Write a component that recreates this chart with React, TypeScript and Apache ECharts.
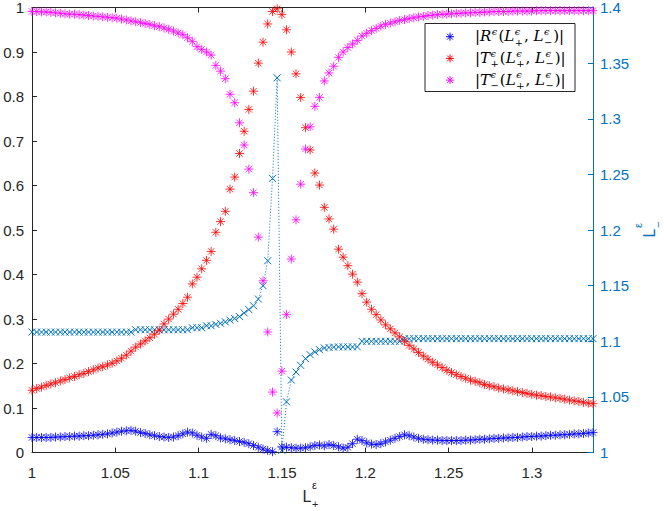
import React, { useEffect, useRef } from "react";
import * as echarts from "echarts";

// Independent variable L+^eps (120 samples)
const lPlus = [
  1.0000, 1.0028, 1.0057, 1.0085, 1.0113, 1.0141, 1.0170, 1.0198, 1.0226, 1.0255,
  1.0283, 1.0311, 1.0339, 1.0368, 1.0396, 1.0424, 1.0453, 1.0481, 1.0509, 1.0537,
  1.0566, 1.0594, 1.0622, 1.0651, 1.0679, 1.0707, 1.0735, 1.0764, 1.0792, 1.0820,
  1.0849, 1.0877, 1.0905, 1.0933, 1.0962, 1.0990, 1.1018, 1.1047, 1.1075, 1.1103,
  1.1131, 1.1160, 1.1188, 1.1216, 1.1245, 1.1273, 1.1301, 1.1329, 1.1358, 1.1386,
  1.1414, 1.1443, 1.1471, 1.1499, 1.1527, 1.1556, 1.1584, 1.1612, 1.1641, 1.1669,
  1.1697, 1.1725, 1.1754, 1.1782, 1.1810, 1.1839, 1.1867, 1.1895, 1.1923, 1.1952,
  1.1980, 1.2008, 1.2037, 1.2065, 1.2093, 1.2121, 1.2150, 1.2178, 1.2206, 1.2235,
  1.2263, 1.2291, 1.2319, 1.2348, 1.2376, 1.2404, 1.2433, 1.2461, 1.2489, 1.2517,
  1.2546, 1.2574, 1.2602, 1.2631, 1.2659, 1.2687, 1.2715, 1.2744, 1.2772, 1.2800,
  1.2829, 1.2857, 1.2885, 1.2913, 1.2942, 1.2970, 1.2998, 1.3027, 1.3055, 1.3083,
  1.3111, 1.3140, 1.3168, 1.3196, 1.3225, 1.3253, 1.3281, 1.3309, 1.3338, 1.3366,
];

// |R^eps(L+, L-)|
const reflR = [
  0.034, 0.034, 0.034, 0.034, 0.034, 0.035, 0.035, 0.036, 0.036, 0.037,
  0.037, 0.038, 0.038, 0.039, 0.040, 0.041, 0.042, 0.044, 0.046, 0.048,
  0.049, 0.050, 0.048, 0.045, 0.043, 0.040, 0.038, 0.036, 0.035, 0.034,
  0.035, 0.038, 0.042, 0.046, 0.044, 0.039, 0.035, 0.032, 0.041, 0.038,
  0.033, 0.031, 0.029, 0.027, 0.025, 0.023, 0.020, 0.016, 0.012, 0.008,
  0.005, 0.002, 0.047, 0.013, 0.012, 0.011, 0.010, 0.010, 0.011, 0.013,
  0.016, 0.017, 0.015, 0.018, 0.016, 0.013, 0.010, 0.012, 0.020, 0.030,
  0.027, 0.022, 0.019, 0.018, 0.020, 0.024, 0.028, 0.032, 0.036, 0.040,
  0.038, 0.035, 0.032, 0.030, 0.029, 0.028, 0.028, 0.027, 0.027, 0.027,
  0.027, 0.027, 0.028, 0.028, 0.029, 0.030, 0.030, 0.031, 0.032, 0.032,
  0.033, 0.033, 0.034, 0.034, 0.035, 0.036, 0.036, 0.037, 0.037, 0.038,
  0.039, 0.039, 0.040, 0.040, 0.041, 0.042, 0.042, 0.043, 0.044, 0.045,
];

// |T+^eps(L+, L-)|
const transPlus = [
  0.140, 0.144, 0.147, 0.151, 0.154, 0.157, 0.161, 0.164, 0.168, 0.171,
  0.175, 0.178, 0.182, 0.186, 0.190, 0.193, 0.197, 0.201, 0.206, 0.212,
  0.219, 0.228, 0.237, 0.244, 0.251, 0.258, 0.266, 0.275, 0.289, 0.300,
  0.311, 0.322, 0.335, 0.349, 0.379, 0.394, 0.413, 0.432, 0.452, 0.495,
  0.519, 0.542, 0.592, 0.619, 0.672, 0.722, 0.771, 0.812, 0.875, 0.922,
  0.963, 0.991, 0.997, 0.984, 0.950, 0.900, 0.851, 0.798, 0.730, 0.680,
  0.628, 0.601, 0.551, 0.525, 0.502, 0.457, 0.439, 0.420, 0.401, 0.383,
  0.357, 0.338, 0.322, 0.310, 0.298, 0.287, 0.278, 0.269, 0.260, 0.250,
  0.241, 0.233, 0.225, 0.217, 0.210, 0.203, 0.197, 0.191, 0.185, 0.180,
  0.175, 0.171, 0.167, 0.163, 0.160, 0.157, 0.153, 0.150, 0.148, 0.145,
  0.143, 0.141, 0.139, 0.137, 0.135, 0.133, 0.131, 0.129, 0.128, 0.126,
  0.125, 0.123, 0.122, 0.120, 0.118, 0.116, 0.115, 0.113, 0.111, 0.110,
];

// |T-^eps(L+, L-)|
const transMinus = [
  0.991, 0.991, 0.990, 0.990, 0.989, 0.988, 0.987, 0.986, 0.985, 0.985,
  0.984, 0.983, 0.982, 0.981, 0.980, 0.979, 0.978, 0.977, 0.976, 0.974,
  0.972, 0.970, 0.968, 0.966, 0.964, 0.962, 0.959, 0.957, 0.954, 0.951,
  0.947, 0.943, 0.939, 0.932, 0.924, 0.912, 0.906, 0.900, 0.893, 0.870,
  0.857, 0.840, 0.805, 0.786, 0.741, 0.691, 0.637, 0.584, 0.484, 0.386,
  0.271, 0.136, 0.089, 0.183, 0.310, 0.435, 0.523, 0.603, 0.682, 0.732,
  0.778, 0.798, 0.835, 0.853, 0.868, 0.888, 0.900, 0.910, 0.918, 0.926,
  0.936, 0.942, 0.948, 0.953, 0.958, 0.962, 0.965, 0.968, 0.971, 0.973,
  0.975, 0.977, 0.979, 0.980, 0.982, 0.983, 0.984, 0.985, 0.985, 0.986,
  0.987, 0.987, 0.988, 0.988, 0.989, 0.989, 0.990, 0.990, 0.991, 0.991,
  0.991, 0.991, 0.992, 0.992, 0.992, 0.992, 0.992, 0.993, 0.993, 0.993,
  0.993, 0.993, 0.993, 0.993, 0.993, 0.993, 0.993, 0.993, 0.993, 0.993,
];

// L-^eps (right axis)
const lMinus = [
  1.1083, 1.1083, 1.1083, 1.1083, 1.1083, 1.1083, 1.1083, 1.1083, 1.1083, 1.1083,
  1.1083, 1.1083, 1.1083, 1.1083, 1.1083, 1.1083, 1.1083, 1.1083, 1.1083, 1.1083,
  1.1083, 1.1083, 1.1104, 1.1104, 1.1104, 1.1104, 1.1104, 1.1104, 1.1104, 1.1104,
  1.1104, 1.1104, 1.1104, 1.1104, 1.1122, 1.1122, 1.1122, 1.1140, 1.1140, 1.1152,
  1.1162, 1.1175, 1.1190, 1.1205, 1.1222, 1.1255, 1.1285, 1.1320, 1.1380, 1.1500,
  1.1724, 1.2464, 1.3368, 1.0020, 1.0456, 1.0652, 1.0724, 1.0784, 1.0844, 1.0880,
  1.0905, 1.0925, 1.0940, 1.0945, 1.0948, 1.0950, 1.0950, 1.0950, 1.0950, 1.0950,
  1.1000, 1.1000, 1.1000, 1.1000, 1.1000, 1.1000, 1.1000, 1.1000, 1.1000, 1.1024,
  1.1024, 1.1024, 1.1024, 1.1024, 1.1024, 1.1024, 1.1024, 1.1024, 1.1024, 1.1024,
  1.1024, 1.1024, 1.1024, 1.1024, 1.1024, 1.1024, 1.1024, 1.1024, 1.1024, 1.1024,
  1.1024, 1.1024, 1.1024, 1.1024, 1.1024, 1.1024, 1.1024, 1.1024, 1.1024, 1.1024,
  1.1024, 1.1024, 1.1024, 1.1024, 1.1024, 1.1024, 1.1024, 1.1024, 1.1024, 1.1024,
];

const X_RANGE = [1, 1.3366];
const LEFT_RANGE = [0, 1];
const RIGHT_RANGE = [1, 1.4];

const AXIS = "#262626";
const RIGHT = "#0072BD";
const BLUE = "#0000FF";
const RED = "#FF0000";
const MAGENTA = "#FF00FF";
const SANS = "'Liberation Sans', Arial, Helvetica, sans-serif";
const SERIF = "'DejaVu Serif', 'Liberation Serif', serif";

const STAR = "path://M0,-5L0,5M-5,0L5,0M-3.54,-3.54L3.54,3.54M-3.54,3.54L3.54,-3.54";
const CROSS = "path://M-1,-1L1,1M-1,1L1,-1";

type Piece = { t: string; it?: boolean; sup?: string; sub?: string };

const legendRows: { color: string; name: string; pieces: Piece[] }[] = [
  {
    color: BLUE,
    name: "|R^ϵ(L^ϵ_+, L^ϵ_−)|",
    pieces: [
      { t: "|" },
      { t: "R", it: true, sup: "ϵ" },
      { t: "(" },
      { t: "L", it: true, sup: "ϵ", sub: "+" },
      { t: ", " },
      { t: "L", it: true, sup: "ϵ", sub: "−" },
      { t: ")|" },
    ],
  },
  {
    color: RED,
    name: "|T^ϵ_+(L^ϵ_+, L^ϵ_−)|",
    pieces: [
      { t: "|" },
      { t: "T", it: true, sup: "ϵ", sub: "+" },
      { t: "(" },
      { t: "L", it: true, sup: "ϵ", sub: "+" },
      { t: ", " },
      { t: "L", it: true, sup: "ϵ", sub: "−" },
      { t: ")|" },
    ],
  },
  {
    color: MAGENTA,
    name: "|T^ϵ_−(L^ϵ_+, L^ϵ_−)|",
    pieces: [
      { t: "|" },
      { t: "T", it: true, sup: "ϵ", sub: "−" },
      { t: "(" },
      { t: "L", it: true, sup: "ϵ", sub: "+" },
      { t: ", " },
      { t: "L", it: true, sup: "ϵ", sub: "−" },
      { t: ")|" },
    ],
  },
];

let measureCtx: CanvasRenderingContext2D | null = null;
function textWidth(t: string, size: number, family: string, italic: boolean) {
  if (!measureCtx) measureCtx = document.createElement("canvas").getContext("2d");
  if (!measureCtx) return t.length * size * 0.5;
  measureCtx.font = `${italic ? "italic " : ""}${size}px ${family}`;
  return measureCtx.measureText(t).width;
}

function txt(t: string, x: number, baseline: number, size: number, family: string, italic: boolean, fill: string) {
  return {
    type: "text",
    x,
    y: baseline - 0.34 * size,
    silent: true,
    style: {
      text: t,
      fontSize: size,
      fontFamily: family,
      fontStyle: italic ? "italic" : "normal",
      fill,
      align: "left",
      verticalAlign: "middle",
      lineHeight: size,
    },
  };
}

function mathRow(
  pieces: Piece[],
  x0: number,
  base: number,
  size: number,
  family: string,
  fill: string,
  o: { ratio: number; raise: number; drop: number; supIt: boolean }
) {
  const s2 = size * o.ratio;
  const els: any[] = [];
  let x = x0;
  for (const p of pieces) {
    els.push(txt(p.t, x, base, size, family, !!p.it, fill));
    x += textWidth(p.t, size, family, !!p.it);
    if (p.sup || p.sub) {
      let w = 0;
      if (p.sup) {
        els.push(txt(p.sup, x + 0.5, base - o.raise * size, s2, family, o.supIt, fill));
        w = Math.max(w, textWidth(p.sup, s2, family, o.supIt));
      }
      if (p.sub) {
        els.push(txt(p.sub, x + 0.5, base + o.drop * size, s2, family, false, fill));
        w = Math.max(w, textWidth(p.sub, s2, family, false));
      }
      x += w + 1.5;
    }
  }
  return els;
}

function starLines(cx: number, cy: number, r: number, color: string) {
  const d = r * 0.707;
  const segs = [
    [0, -r, 0, r],
    [-r, 0, r, 0],
    [-d, -d, d, d],
    [-d, d, d, -d],
  ];
  return segs.map((s) => ({
    type: "line",
    silent: true,
    shape: { x1: cx + s[0], y1: cy + s[1], x2: cx + s[2], y2: cy + s[3] },
    style: { stroke: color, lineWidth: 1 },
  }));
}

export default function App() {
  const ref = useRef<HTMLDivElement>(null);

  useEffect(() => {
    document.body.style.margin = "0";
    if (!ref.current) return;
    const chart = echarts.init(ref.current, undefined, { renderer: "svg" });

    const graphics: any[] = [];

    // Legend box
    const legend: any[] = [
      {
        type: "rect",
        silent: true,
        shape: { x: 425, y: 23.5, width: 150, height: 68 },
        style: { fill: "#ffffff", stroke: AXIS, lineWidth: 1 },
      },
    ];
    legendRows.forEach((row, i) => {
      const base = 41.5 + i * 21.7;
      legend.push(...starLines(450, base - 4.8, 4, row.color));
      legend.push(
        ...mathRow(row.pieces, 475, base, 15, SERIF, "#000000", {
          ratio: 0.66,
          raise: 0.45,
          drop: 0.26,
          supIt: true,
        })
      );
    });
    graphics.push({ type: "group", z: 100, children: legend });

    // x-axis name: L_+^eps
    graphics.push({
      type: "group",
      z: 100,
      children: mathRow([{ t: "L", sup: "ε", sub: "+" }], 302.5, 502, 16, SANS, AXIS, {
        ratio: 0.69,
        raise: 0.8,
        drop: 0.35,
        supIt: false,
      }),
    });

    // right axis name: L_-^eps rotated
    graphics.push({
      type: "group",
      z: 100,
      x: 655,
      y: 237.5,
      rotation: Math.PI / 2,
      children: mathRow([{ t: "L", sup: "ε", sub: "−" }], 0, 0, 16, SANS, RIGHT, {
        ratio: 0.69,
        raise: 0.8,
        drop: 0.4,
        supIt: false,
      }),
    });

    const axisTick = (color: string) => ({
      show: true,
      inside: true,
      length: 5,
      lineStyle: { color, width: 1 },
    });

    const option: any = {
      animation: false,
      backgroundColor: "#ffffff",
      grid: { left: 32, right: 71, top: 6, bottom: 58.4, containLabel: false },
      xAxis: [
        {
          type: "value",
          position: "bottom",
          min: X_RANGE[0],
          max: X_RANGE[1],
          interval: 0.05,
          axisLine: { show: true, onZero: false, lineStyle: { color: AXIS, width: 1 } },
          axisTick: axisTick(AXIS),
          axisLabel: {
            color: AXIS,
            fontSize: 15,
            fontFamily: SANS,
            margin: 12,
            showMaxLabel: false,
          },
          splitLine: { show: false },
        },
        {
          type: "value",
          position: "top",
          min: X_RANGE[0],
          max: X_RANGE[1],
          interval: 0.05,
          axisLine: { show: true, onZero: false, lineStyle: { color: AXIS, width: 1 } },
          axisTick: axisTick(AXIS),
          axisLabel: { show: false },
          splitLine: { show: false },
        },
      ],
      yAxis: [
        {
          type: "value",
          position: "left",
          min: LEFT_RANGE[0],
          max: LEFT_RANGE[1],
          interval: 0.1,
          axisLine: { show: true, onZero: false, lineStyle: { color: AXIS, width: 1 } },
          axisTick: axisTick(AXIS),
          axisLabel: { color: AXIS, fontSize: 15, fontFamily: SANS, margin: 8 },
          splitLine: { show: false },
        },
        {
          type: "value",
          position: "right",
          min: RIGHT_RANGE[0],
          max: RIGHT_RANGE[1],
          interval: 0.05,
          axisLine: { show: true, onZero: false, lineStyle: { color: RIGHT, width: 1 } },
          axisTick: axisTick(RIGHT),
          axisLabel: { color: RIGHT, fontSize: 15, fontFamily: SANS, margin: 7 },
          splitLine: { show: false },
        },
      ],
      series: [
        {
          type: "line",
          name: "L−ε",
          xAxisIndex: 0,
          yAxisIndex: 1,
          data: lPlus.map((x, i) => [x, lMinus[i]]),
          symbol: CROSS,
          symbolSize: 7,
          showSymbol: true,
          showAllSymbol: true,
          lineStyle: { color: RIGHT, width: 1, type: [1, 2] },
          itemStyle: { color: RIGHT, borderColor: RIGHT, borderWidth: 1 },
          z: 2,
        },
        {
          type: "scatter",
          name: legendRows[0].name,
          xAxisIndex: 0,
          yAxisIndex: 0,
          data: lPlus.map((x, i) => [x, reflR[i]]),
          symbol: STAR,
          symbolSize: 9,
          itemStyle: { color: BLUE, borderColor: BLUE, borderWidth: 1 },
          z: 3,
        },
        {
          type: "scatter",
          name: legendRows[1].name,
          xAxisIndex: 0,
          yAxisIndex: 0,
          data: lPlus.map((x, i) => [x, transPlus[i]]),
          symbol: STAR,
          symbolSize: 9,
          itemStyle: { color: RED, borderColor: RED, borderWidth: 1 },
          z: 4,
        },
        {
          type: "scatter",
          name: legendRows[2].name,
          xAxisIndex: 0,
          yAxisIndex: 0,
          data: lPlus.map((x, i) => [x, transMinus[i]]),
          symbol: STAR,
          symbolSize: 9,
          itemStyle: { color: MAGENTA, borderColor: MAGENTA, borderWidth: 1 },
          z: 5,
        },
      ],
      graphic: graphics,
    };

    chart.setOption(option);
    return () => chart.dispose();
  }, []);

  return <div ref={ref} style={{ width: 664, height: 511 }} />;
}
